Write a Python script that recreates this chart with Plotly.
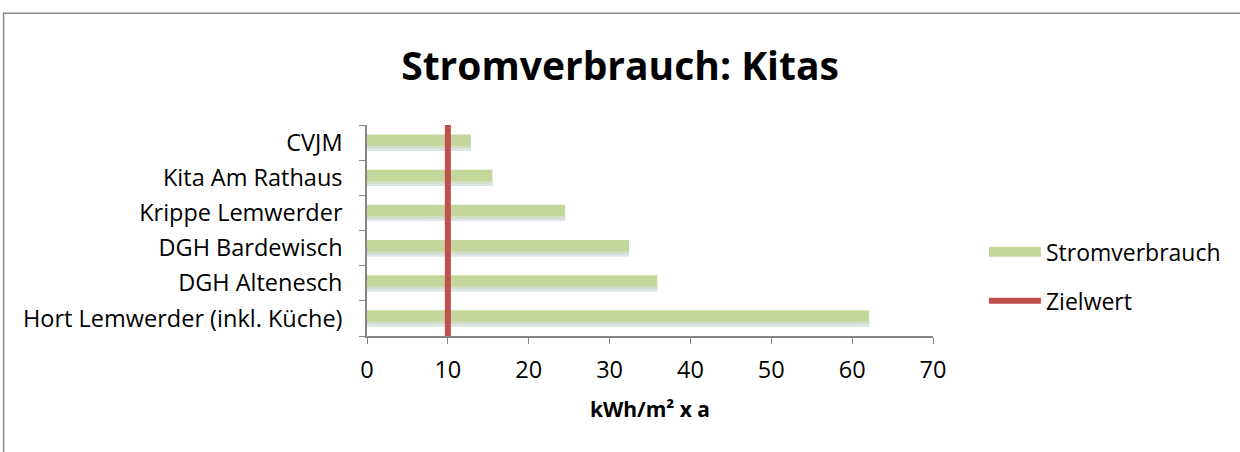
import plotly.graph_objects as go

# Data (bottom-to-top order as drawn)
categories = ["Hort Lemwerder (inkl. Küche)", "DGH Altenesch", "DGH Bardewisch",
              "Krippe Lemwerder", "Kita Am Rathaus", "CVJM"]
stromverbrauch = [62.1, 35.9, 32.4, 24.5, 15.5, 12.85]
zielwert = 10
x_ticks = [0, 10, 20, 30, 40, 50, 60, 70]

FONT = "Open Sans"
BAR_W = 0.46
GREEN = "#c4d79b"
RED = "#c0504d"

fig = go.Figure()

fig.add_trace(go.Bar(
    name="Stromverbrauch", y=categories, x=stromverbrauch, orientation="h",
    width=BAR_W, marker=dict(color=GREEN, line=dict(width=0)),
    showlegend=False, hoverinfo="x+y",
))
# lighter lower strips to mimic the gradient
fig.add_trace(go.Bar(
    y=categories, x=stromverbrauch, orientation="h", width=0.07, offset=-BAR_W / 2 + 0.07,
    marker=dict(color="#d2ddc3", line=dict(width=0)), showlegend=False, hoverinfo="skip",
))
fig.add_trace(go.Bar(
    y=categories, x=stromverbrauch, orientation="h", width=0.07, offset=-BAR_W / 2,
    marker=dict(color="#dce5ec", line=dict(width=0)), showlegend=False, hoverinfo="skip",
))
# legend entry for the bars (wide swatch)
fig.add_trace(go.Scatter(
    name="Stromverbrauch", x=[None], y=[None], mode="lines",
    line=dict(color=GREEN, width=16), legendgroup="a",
))
fig.add_trace(go.Scatter(
    name="Zielwert", x=[zielwert, zielwert], y=[0, 1], yaxis="y2", mode="lines",
    line=dict(color=RED, width=6), legendgroup="b",
))

fig.update_layout(
    width=1240, height=452,
    margin=dict(l=367, r=307, t=125, b=116),
    paper_bgcolor="white", plot_bgcolor="white",
    barmode="overlay",
    font=dict(family=FONT, size=23.5, color="black"),
    title=dict(text="<b>Stromverbrauch: Kitas</b>", x=0.5, xanchor="center",
               y=1 - 66 / 452, yanchor="middle",
               font=dict(family=FONT, size=39, color="black")),
    xaxis=dict(range=[0, 70], tickvals=x_ticks, ticks="outside", ticklen=6,
               tickcolor="#868686", showline=True, linecolor="#868686", linewidth=1.5,
               showgrid=False, zeroline=False, fixedrange=True,
               tickfont=dict(size=23.5), ticklabelstandoff=6,
               title=dict(text="<b>kWh/m² x a</b>", font=dict(size=21), standoff=18)),
    yaxis=dict(type="category", categoryorder="array", categoryarray=categories,
               tickson="boundaries", ticks="outside", ticklen=6, tickcolor="#868686",
               showline=True, linecolor="#868686", linewidth=1.5, showgrid=False,
               ticklabelstandoff=18, range=[-0.5, 5.5], fixedrange=True),
    yaxis2=dict(overlaying="y", range=[0, 1], visible=False, fixedrange=True),
    legend=dict(x=1.09, xanchor="left", y=0.283, yanchor="middle",
                traceorder="grouped", tracegroupgap=16, itemwidth=52,
                font=dict(family=FONT, size=23), bgcolor="rgba(0,0,0,0)"),
    shapes=[dict(type="rect", xref="paper", yref="paper",
                 x0=-0.642, x1=1.6, y0=-0.63, y1=1.53,
                 line=dict(color="#898989", width=1.5), layer="below")],
)

fig.write_html("out.html", config={"displayModeBar": False},
               post_script="document.body.style.margin='0';")
